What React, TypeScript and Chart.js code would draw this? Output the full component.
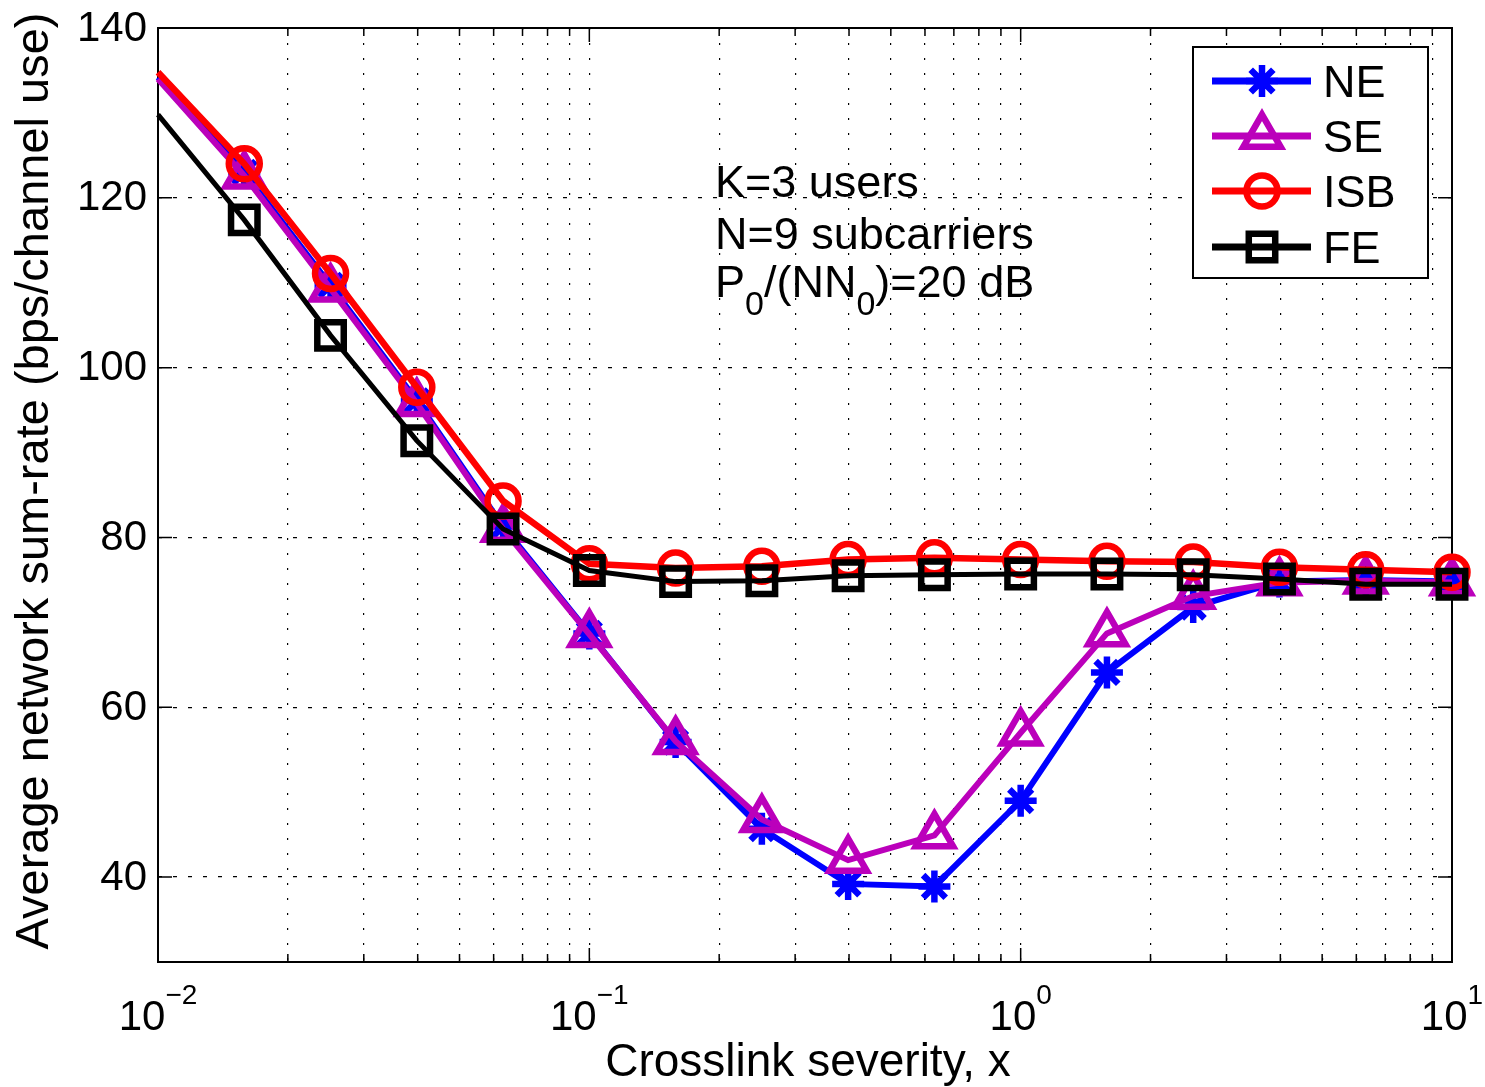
import React, { useEffect, useRef } from 'react';
import { Chart, registerables } from 'chart.js';

Chart.register(...registerables);

// ---- data ----
const xValues = [0.01, 0.015849, 0.025119, 0.039811, 0.063096, 0.1, 0.15849, 0.25119, 0.39811, 0.63096, 1, 1.5849, 2.5119, 3.9811, 6.3096, 10];
const neValues = [134.2, 123.0, 109.7, 96.1, 81.3, 68.7, 55.9, 45.7, 39.2, 38.9, 49.0, 64.1, 71.8, 74.8, 75.0, 74.8];
const seValues = [134.0, 122.6, 109.3, 95.8, 81.0, 68.6, 56.0, 46.8, 42.0, 44.9, 57.0, 68.7, 73.1, 74.7, 74.9, 74.7];
const isbValues = [134.8, 124.0, 111.1, 97.7, 84.3, 76.9, 76.4, 76.6, 77.4, 77.6, 77.4, 77.2, 77.1, 76.5, 76.2, 75.9];
const feValues = [129.8, 117.4, 103.8, 91.4, 81.0, 76.1, 74.8, 74.9, 75.5, 75.6, 75.7, 75.7, 75.6, 75.1, 74.5, 74.5];
const seriesNames = ['NE', 'SE', 'ISB', 'FE'];

const yTickValues = [40, 60, 80, 100, 120, 140];
const yGridValues = [40, 60, 80, 100, 120];
const xMajorTicks = [0.01, 0.1, 1, 10];
const xExponents = [-2, -1, 0, 1];
const xMinorTicks = [0.02, 0.03, 0.04, 0.05, 0.06, 0.07, 0.08, 0.09, 0.2, 0.3, 0.4, 0.5, 0.6, 0.7, 0.8, 0.9, 2, 3, 4, 5, 6, 7, 8, 9];
const xTitle = 'Crosslink severity, x';
const yTitle = 'Average network sum-rate (bps/channel use)';
const annotationLine1 = 'K=3 users';
const annotationLine2 = 'N=9 subcarriers';

const FONT = '"Liberation Sans", Arial, Helvetica, sans-serif';

type Style = { name: string; color: string; point: string; radius: number; order: number; lw: number };
const styles: Style[] = [
  { name: seriesNames[0], color: '#0000ff', point: 'star', radius: 16, order: 4, lw: 6 },
  { name: seriesNames[1], color: '#bb00bb', point: 'triangle', radius: 21.5, order: 3, lw: 6 },
  { name: seriesNames[2], color: '#ff0000', point: 'circle', radius: 15.5, order: 2, lw: 6.5 },
  { name: seriesNames[3], color: '#000000', point: 'rect', radius: 18.7, order: 1, lw: 5 },
];
const seriesValues = [neValues, seValues, isbValues, feValues];
const MARKER_LW = 6.5;

function drawMarker(ctx: CanvasRenderingContext2D, style: string, x: number, y: number, r: number) {
  ctx.beginPath();
  if (style === 'circle') {
    ctx.arc(x, y, r, 0, Math.PI * 2);
  } else if (style === 'rect') {
    const s = Math.SQRT1_2 * r;
    ctx.rect(x - s, y - s, 2 * s, 2 * s);
  } else if (style === 'triangle') {
    let rad = 0;
    ctx.moveTo(x + Math.sin(rad) * r, y - Math.cos(rad) * r);
    rad += (2 * Math.PI) / 3;
    ctx.lineTo(x + Math.sin(rad) * r, y - Math.cos(rad) * r);
    rad += (2 * Math.PI) / 3;
    ctx.lineTo(x + Math.sin(rad) * r, y - Math.cos(rad) * r);
    ctx.closePath();
  } else if (style === 'star') {
    ctx.moveTo(x - r, y);
    ctx.lineTo(x + r, y);
    ctx.moveTo(x, y - r);
    ctx.lineTo(x, y + r);
    const o = Math.cos(Math.PI / 4) * r;
    ctx.moveTo(x - o, y - o);
    ctx.lineTo(x + o, y + o);
    ctx.moveTo(x + o, y - o);
    ctx.lineTo(x - o, y + o);
  }
  ctx.stroke();
}

const decoPlugin = {
  id: 'deco',
  beforeDatasetsDraw(chart: any) {
    const { ctx, chartArea: a, scales } = chart;
    const xs = scales.x;
    const ys = scales.y;
    ctx.save();
    ctx.strokeStyle = '#000';
    ctx.lineWidth = 1.5;
    ctx.beginPath();
    const drawX = (v: number, len: number) => {
      const px = xs.getPixelForValue(v);
      ctx.moveTo(px, a.bottom);
      ctx.lineTo(px, a.bottom - len);
      ctx.moveTo(px, a.top);
      ctx.lineTo(px, a.top + len);
    };
    xMajorTicks.forEach((v) => drawX(v, 14));
    xMinorTicks.forEach((v) => drawX(v, 8));
    yTickValues.forEach((v) => {
      const py = ys.getPixelForValue(v);
      ctx.moveTo(a.left, py);
      ctx.lineTo(a.left + 14, py);
      ctx.moveTo(a.right, py);
      ctx.lineTo(a.right - 14, py);
    });
    ctx.stroke();
    ctx.lineWidth = 2;
    ctx.strokeRect(a.left, a.top, a.right - a.left, a.bottom - a.top);
    ctx.restore();
  },
  afterDraw(chart: any) {
    const { ctx, chartArea: a, scales } = chart;
    const xs = scales.x;
    const ys = scales.y;
    ctx.save();
    ctx.fillStyle = '#000';

    // y tick labels
    ctx.font = `42px ${FONT}`;
    ctx.textAlign = 'right';
    ctx.textBaseline = 'middle';
    yTickValues.forEach((v) => {
      ctx.fillText(String(v), a.left - 11, ys.getPixelForValue(v) + 1);
    });

    // x tick labels 10^n
    ctx.textAlign = 'left';
    ctx.textBaseline = 'alphabetic';
    xMajorTicks.forEach((v, i) => {
      const e = xExponents[i];
      const sup = e < 0 ? '\u2212' + String(-e) : String(e);
      ctx.font = `42px ${FONT}`;
      const w1 = ctx.measureText('10').width;
      ctx.font = `28px ${FONT}`;
      const w2 = ctx.measureText(sup).width;
      const start = xs.getPixelForValue(v) - (w1 + w2) / 2;
      ctx.font = `42px ${FONT}`;
      ctx.fillText('10', start, a.bottom + 68);
      ctx.font = `28px ${FONT}`;
      ctx.fillText(sup, start + w1, a.bottom + 42);
    });

    // axis titles
    ctx.font = `46px ${FONT}`;
    ctx.textAlign = 'center';
    ctx.fillText(xTitle, (a.left + a.right) / 2 + 3, a.bottom + 114);
    ctx.save();
    ctx.font = `47px ${FONT}`;
    ctx.translate(48, 481);
    ctx.rotate(-Math.PI / 2);
    ctx.fillText(yTitle, 0, 0);
    ctx.restore();

    // annotation
    ctx.textAlign = 'left';
    ctx.font = `45px ${FONT}`;
    const ax = 715;
    ctx.fillText(annotationLine1, ax, 197);
    ctx.fillText(annotationLine2, ax, 249);
    const parts: [string, boolean][] = [['P', false], ['0', true], ['/(NN', false], ['0', true], [')=20 dB', false]];
    let cx = ax;
    parts.forEach(([t, sub]) => {
      ctx.font = sub ? `34px ${FONT}` : `45px ${FONT}`;
      ctx.fillText(t, cx, sub ? 315 : 297);
      cx += ctx.measureText(t).width;
    });

    // legend
    const lx = 1193, ly = 47, lw = 235, lh = 231;
    ctx.fillStyle = '#fff';
    ctx.fillRect(lx, ly, lw, lh);
    ctx.strokeStyle = '#000';
    ctx.lineWidth = 2;
    ctx.strokeRect(lx, ly, lw, lh);
    const rows = [81, 136, 191, 247];
    styles.forEach((s, i) => {
      const ry = rows[i];
      ctx.strokeStyle = s.color;
      ctx.lineWidth = 7;
      ctx.beginPath();
      ctx.moveTo(1212, ry);
      ctx.lineTo(1311, ry);
      ctx.stroke();
      ctx.lineWidth = MARKER_LW;
      drawMarker(ctx, s.point, 1262, ry, s.radius);
      ctx.fillStyle = '#000';
      ctx.font = `45px ${FONT}`;
      ctx.textAlign = 'left';
      ctx.fillText(s.name, 1323, ry + 16);
    });
    ctx.restore();
  },
};

export default function App() {
  const ref = useRef<HTMLCanvasElement | null>(null);
  useEffect(() => {
    if (!ref.current) return;
    const chart = new Chart(ref.current, {
      type: 'line',
      data: {
        datasets: styles.map((s, si) => ({
          label: s.name,
          data: xValues.map((x, i) => ({ x, y: seriesValues[si][i] })),
          borderColor: s.color,
          backgroundColor: 'transparent',
          borderWidth: s.lw,
          pointStyle: s.point as any,
          pointRadius: (c: any) => (c.dataIndex === 0 ? 0 : s.radius),
          pointBorderWidth: MARKER_LW,
          pointBorderColor: s.color,
          pointBackgroundColor: 'transparent',
          tension: 0,
          clip: false as any,
          order: s.order,
        })),
      },
      options: {
        responsive: false,
        animation: false,
        events: [],
        layout: { padding: { left: 158, top: 23, right: 33, bottom: 125 } },
        plugins: { legend: { display: false }, tooltip: { enabled: false } },
        scales: {
          x: {
            type: 'logarithmic',
            min: 0.01,
            max: 10,
            afterBuildTicks: (axis: any) => {
              axis.ticks = [...xMajorTicks.slice(1, 3), ...xMinorTicks].map((v) => ({ value: v }));
            },
            ticks: { display: false },
            grid: { drawTicks: false, color: '#000', lineWidth: 1.2 },
            border: { display: false, dash: [2, 13] },
          },
          y: {
            type: 'linear',
            min: 30,
            max: 140,
            afterBuildTicks: (axis: any) => {
              axis.ticks = yGridValues.map((v) => ({ value: v }));
            },
            ticks: { display: false },
            grid: { drawTicks: false, color: '#000', lineWidth: 1.2 },
            border: { display: false, dash: [4, 11] },
          },
        },
      },
      plugins: [decoPlugin],
    });
    return () => chart.destroy();
  }, []);
  return (
    <div style={{ position: 'fixed', left: 0, top: 0, width: 1485, height: 1087, background: '#fff' }}>
      <canvas ref={ref} width={1485} height={1087} style={{ display: 'block' }} />
    </div>
  );
}
